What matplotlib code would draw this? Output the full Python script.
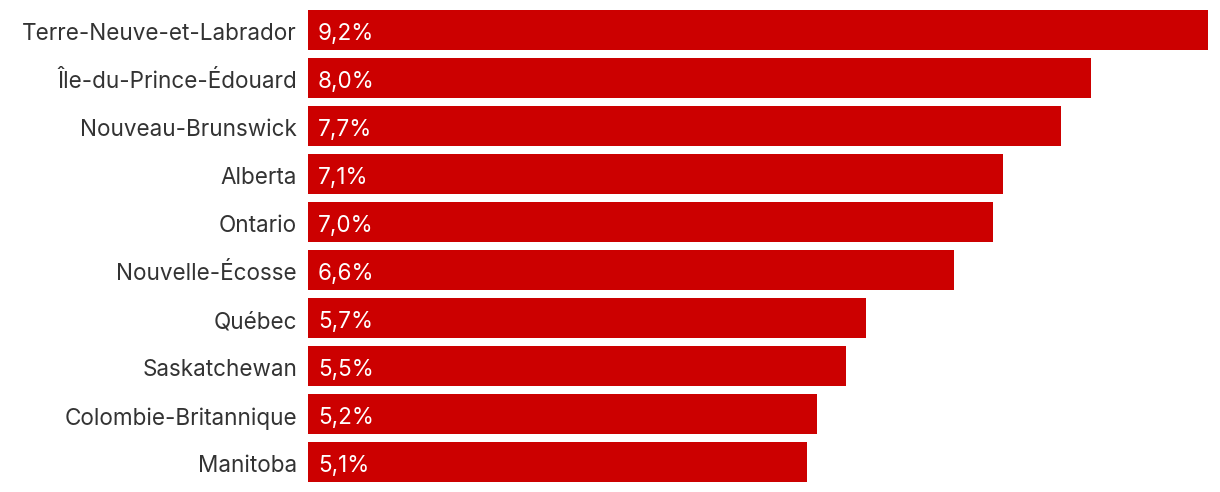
import matplotlib
matplotlib.use("Agg")
import matplotlib.pyplot as plt
import matplotlib.transforms as mtransforms

provinces = ["Terre-Neuve-et-Labrador", "Île-du-Prince-Édouard", "Nouveau-Brunswick",
             "Alberta", "Ontario", "Nouvelle-Écosse", "Québec", "Saskatchewan",
             "Colombie-Britannique", "Manitoba"]
values = [9.2, 8.0, 7.7, 7.1, 7.0, 6.6, 5.7, 5.5, 5.2, 5.1]

plt.rcParams['font.family'] = ['Inter', 'DejaVu Sans']

W, H = 1220, 492
fig = plt.figure(figsize=(W / 100, H / 100), dpi=100)
ax = fig.add_axes([308 / W, (H - 486) / H, 900 / W, 480 / H])

y = list(range(len(provinces)))
ax.barh(y, values, height=40 / 48, color="#cc0000")
ax.set_xlim(0, 9.2)
ax.set_ylim(len(provinces) - 0.5, -0.5)
ax.set_yticks([])
ax.set_xticks([])
for s in ax.spines.values():
    s.set_visible(False)

lab_tr = ax.transData + mtransforms.ScaledTranslation(-11 / 100, -2 / 100, fig.dpi_scale_trans)
val_tr = ax.transData + mtransforms.ScaledTranslation(10 / 100, -2 / 100, fig.dpi_scale_trans)
for yi, name, v in zip(y, provinces, values):
    ax.text(0, yi, name, transform=lab_tr, ha="right", va="center_baseline",
            color="#333333", fontsize=16.2)
    ax.text(0, yi, f"{v:.1f}%".replace(".", ","), transform=val_tr,
            ha="left", va="center_baseline", color="white", fontsize=16.2)

fig.savefig("out.png", dpi=100)
